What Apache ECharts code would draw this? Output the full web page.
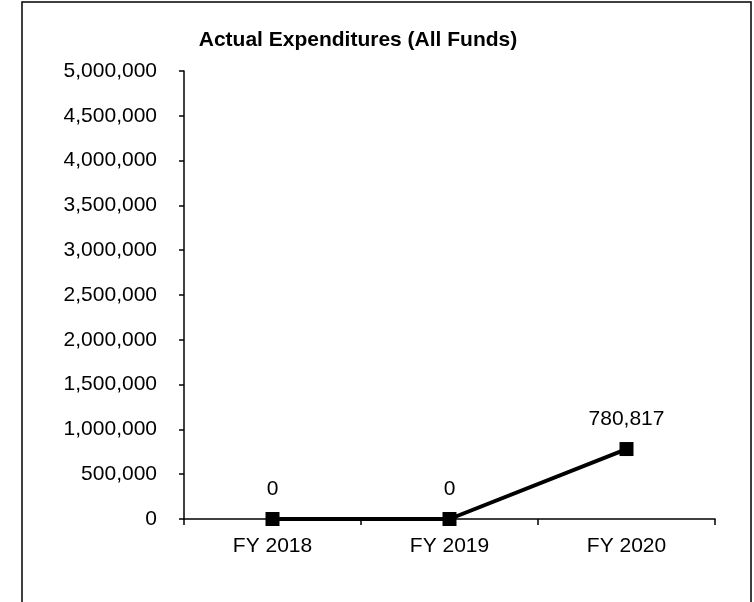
<!DOCTYPE html>
<html><head><meta charset="utf-8">
<script src="https://cdn.jsdelivr.net/npm/echarts@6/dist/echarts.min.js"></script>
<style>html,body{margin:0;padding:0;background:#fff}#c{width:754px;height:602px}</style>
</head><body><div id="c"></div>
<script>
const categories = ['FY 2018', 'FY 2019', 'FY 2020'];
const expenditures = [0, 0, 780817];
const titleText = 'Actual Expenditures (All Funds)';

const chart = echarts.init(document.getElementById('c'), null, {renderer: 'canvas'});
const font = 'Liberation Sans, Arial, sans-serif';
chart.setOption({
  animation: false,
  backgroundColor: '#fff',
  graphic: [{
    type: 'rect', shape: {x: 22, y: 2, width: 729, height: 640},
    style: {fill: 'none', stroke: '#000', lineWidth: 1.5}, silent: true
  }],
  title: {
    text: titleText, left: 358, top: 30, textAlign: 'center', padding: 0,
    textStyle: {fontFamily: font, fontSize: 21, fontWeight: 'bold', color: '#000'}
  },
  grid: {left: 184, right: 39, top: 71, bottom: 83, containLabel: false},
  xAxis: {
    type: 'category', data: categories, boundaryGap: true,
    axisLine: {lineStyle: {color: '#000', width: 1.5}},
    axisTick: {show: true, inside: false, length: 6, alignWithLabel: false, lineStyle: {color: '#000', width: 1.5}},
    axisLabel: {color: '#000', fontFamily: font, fontSize: 21, margin: 17},
    splitLine: {show: false}
  },
  yAxis: {
    type: 'value', min: 0, max: 5000000, interval: 500000,
    axisLine: {show: true, lineStyle: {color: '#000', width: 1.5}},
    axisTick: {show: true, length: 5, lineStyle: {color: '#000', width: 1.5}},
    axisLabel: {color: '#000', fontFamily: font, fontSize: 21, margin: 27,
      formatter: v => v.toLocaleString('en-US')},
    splitLine: {show: false}
  },
  series: [{
    type: 'line', data: expenditures,
    symbol: 'rect', symbolSize: 14,
    lineStyle: {color: '#000', width: 4},
    itemStyle: {color: '#000'},
    label: {show: true, position: 'top', distance: 12, color: '#000', fontFamily: font, fontSize: 21,
      formatter: p => p.value.toLocaleString('en-US')}
  }]
});
</script></body></html>
